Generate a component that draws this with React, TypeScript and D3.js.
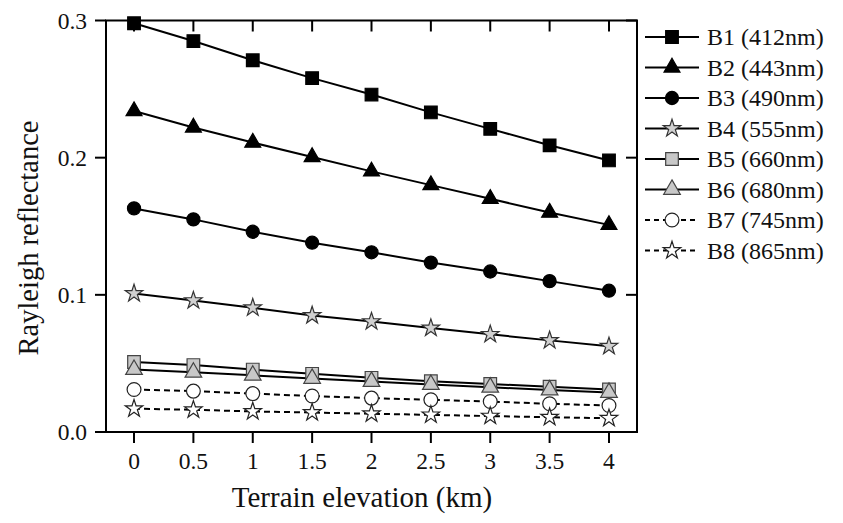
import React from "react";
import * as d3 from "d3";

const elevations = [0, 0.5, 1, 1.5, 2, 2.5, 3, 3.5, 4];
const xTickLabels = ["0", "0.5", "1", "1.5", "2", "2.5", "3", "3.5", "4"];
const yTicks = [0, 0.1, 0.2, 0.3];
const yTickLabels = ["0.0", "0.1", "0.2", "0.3"];

const b1 = [0.298, 0.285, 0.271, 0.258, 0.246, 0.233, 0.221, 0.209, 0.198];
const b2 = [0.234, 0.222, 0.211, 0.2005, 0.19, 0.18, 0.17, 0.16, 0.151];
const b3 = [0.163, 0.155, 0.146, 0.138, 0.131, 0.1235, 0.117, 0.11, 0.103];
const b4 = [0.101, 0.0958, 0.0906, 0.085, 0.0805, 0.0758, 0.0712, 0.0668, 0.0625];
const b5 = [0.051, 0.0488, 0.0455, 0.0424, 0.0395, 0.037, 0.035, 0.033, 0.031];
const b6 = [0.0455, 0.0435, 0.0413, 0.039, 0.0368, 0.0346, 0.0326, 0.0306, 0.0288];
const b7 = [0.031, 0.0298, 0.028, 0.0262, 0.0247, 0.0235, 0.0222, 0.0206, 0.0193];
const b8 = [0.017, 0.0162, 0.015, 0.0142, 0.0133, 0.0125, 0.0116, 0.0108, 0.01];

const seriesLabels = [
  "B1 (412nm)",
  "B2 (443nm)",
  "B3 (490nm)",
  "B4 (555nm)",
  "B5 (660nm)",
  "B6 (680nm)",
  "B7 (745nm)",
  "B8 (865nm)",
];
const seriesValues = [b1, b2, b3, b4, b5, b6, b7, b8];

type Style = { symbol: any; size: number; fill: string; stroke: string; dashed: boolean };
const styles: Style[] = [
  { symbol: d3.symbolSquare, size: 160, fill: "#000", stroke: "#000", dashed: false },
  { symbol: d3.symbolTriangle, size: 110, fill: "#000", stroke: "#000", dashed: false },
  { symbol: d3.symbolCircle, size: 135, fill: "#000", stroke: "#000", dashed: false },
  { symbol: d3.symbolStar, size: 95, fill: "#d0d0d0", stroke: "#333", dashed: false },
  { symbol: d3.symbolSquare, size: 160, fill: "#c8c8c8", stroke: "#444", dashed: false },
  { symbol: d3.symbolTriangle, size: 120, fill: "#c8c8c8", stroke: "#444", dashed: false },
  { symbol: d3.symbolCircle, size: 150, fill: "#fff", stroke: "#222", dashed: true },
  { symbol: d3.symbolStar, size: 95, fill: "#fff", stroke: "#222", dashed: true },
];

const W = 843;
const H = 523;
const L = 106;
const R = 637;
const T = 20.5;
const B = 432;
const FONT = "'Liberation Serif', 'Times New Roman', serif";

export default function App() {
  const x = d3.scaleLinear().domain([-0.236, 4.236]).range([L, R]);
  const y = d3.scaleLinear().domain([0, 0.3]).range([B, T]);
  const line = d3
    .line<number>()
    .x((_, i) => x(elevations[i]))
    .y((v) => y(v));

  const legendX0 = 645;
  const legendX1 = 699;
  const legendMid = 672;
  const legendTextX = 707;
  const legendY0 = 37;
  const legendStep = 30.5;

  return (
    <svg width={W} height={H} style={{ position: "absolute", left: 0, top: 0, background: "#fff" }}>
      <rect x={0} y={0} width={W} height={H} fill="#fff" />
      {seriesValues.map((vals, si) => (
        <path
          key={"l" + si}
          d={line(vals) || ""}
          fill="none"
          stroke="#000"
          strokeWidth={2}
          strokeDasharray={styles[si].dashed ? "6,4" : undefined}
        />
      ))}
      {seriesValues.map((vals, si) =>
        vals.map((v, i) => (
          <path
            key={"m" + si + "-" + i}
            d={d3.symbol().type(styles[si].symbol).size(styles[si].size)() || ""}
            transform={`translate(${x(elevations[i])},${y(v)})`}
            fill={styles[si].fill}
            stroke={styles[si].stroke}
            strokeWidth={1.2}
          />
        ))
      )}
      <rect x={L} y={T} width={R - L} height={B - T} fill="none" stroke="#000" strokeWidth={2} />
      {elevations.map((e, i) => (
        <g key={"xt" + i}>
          <line x1={x(e)} x2={x(e)} y1={B} y2={B + 11} stroke="#000" strokeWidth={2} />
          <line x1={x(e)} x2={x(e)} y1={T} y2={T + 11} stroke="#000" strokeWidth={2} />
          <text x={x(e)} y={469} textAnchor="middle" fontFamily={FONT} fontSize={23.5} fill="#111">
            {xTickLabels[i]}
          </text>
        </g>
      ))}
      {yTicks.map((t, i) => (
        <g key={"yt" + i}>
          <line x1={L - 11} x2={L} y1={y(t)} y2={y(t)} stroke="#000" strokeWidth={2} />
          <line x1={R - 11} x2={R} y1={y(t)} y2={y(t)} stroke="#000" strokeWidth={2} />
          <text
            x={87}
            y={y(t)}
            dy="0.35em"
            textAnchor="end"
            fontFamily={FONT}
            fontSize={23.5}
            fill="#111"
          >
            {yTickLabels[i]}
          </text>
        </g>
      ))}
      <text x={362} y={507} textAnchor="middle" fontFamily={FONT} fontSize={29} fill="#111">
        Terrain elevation (km)
      </text>
      <text
        transform="translate(38,238) rotate(-90)"
        textAnchor="middle"
        fontFamily={FONT}
        fontSize={28.5}
        fill="#111"
      >
        Rayleigh reflectance
      </text>
      {seriesLabels.map((lab, si) => {
        const ly = legendY0 + si * legendStep;
        const st = styles[si];
        return (
          <g key={"lg" + si}>
            <line
              x1={legendX0}
              x2={legendX1}
              y1={ly}
              y2={ly}
              stroke="#000"
              strokeWidth={2}
              strokeDasharray={st.dashed ? "5,4" : undefined}
            />
            <path
              d={d3.symbol().type(st.symbol).size(st.size)() || ""}
              transform={`translate(${legendMid},${ly})`}
              fill={st.dashed ? "#fff" : st.fill}
              stroke={st.stroke}
              strokeWidth={1.2}
            />
            <text x={legendTextX} y={ly} dy="0.35em" fontFamily={FONT} fontSize={24} fill="#111">
              {lab}
            </text>
          </g>
        );
      })}
    </svg>
  );
}
